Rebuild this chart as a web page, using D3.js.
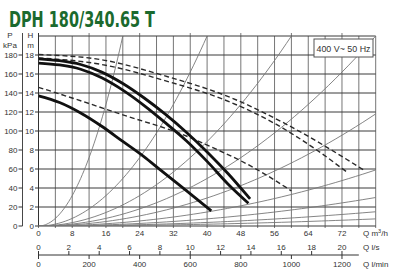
<!DOCTYPE html>
<html><head><meta charset="utf-8">
<script src="https://cdn.jsdelivr.net/npm/d3@7/dist/d3.min.js"></script>
<style>
html,body{margin:0;padding:0;background:#fff;}
svg{display:block;font-family:"Liberation Sans",Arial,sans-serif;}
</style></head>
<body><svg id="c" width="400" height="278"></svg>
<script>
// ---- data ----
const title = "DPH 180/340.65 T";
const legendText = "400 V~ 50 Hz";
const qTicks = [0, 8, 16, 24, 32, 40, 48, 56, 64, 72];
const hTicks = [0, 2, 4, 6, 8, 10, 12, 14, 16, 18];
const kpaTicks = [0, 20, 40, 60, 80, 100, 120, 140, 160, 180];
const lsTicks = [0, 2, 4, 6, 8, 10, 12, 14, 16, 18, 20];
const lminTicks = [0, 200, 400, 600, 800, 1000, 1200];
// pump curves (solid thick)
const s1Q = [0, 5, 10, 15, 20, 25, 30, 35, 40, 45, 50.2];
const s1H = [17.6, 17.4, 17.0, 16.2, 15.0, 13.5, 11.8, 9.9, 7.8, 5.5, 2.85];
const s2Q = [0, 5, 10, 15, 20, 25, 30, 35, 40, 45, 49.8];
const s2H = [17.15, 16.95, 16.5, 15.6, 14.3, 12.7, 10.9, 9.0, 6.8, 4.4, 2.4];
const s3Q = [0, 5, 10, 15, 20, 25, 28.9, 35, 41];
const s3H = [13.7, 13.0, 11.9, 10.5, 8.9, 7.3, 5.9, 3.75, 1.6];
// dashed curves
const d1Q = [0, 15, 30, 45.7, 58, 69.5, 77.1];
const d1H = [18.05, 17.5, 15.8, 13.5, 10.9, 8.0, 5.9];
const d2Q = [0, 15, 30, 45.7, 56, 66, 73.1];
const d2H = [17.7, 17.0, 15.3, 13.0, 10.8, 8.0, 5.7];
const d3Q = [0, 9.2, 20, 33.8, 42.6, 50, 60];
const d3H = [14.6, 13.3, 11.7, 9.7, 8.0, 6.4, 3.7];
// system curves: end points (Q, H) of parabolas through origin
const sysQEnd = [20, 40, 60, 80, 80, 80, 80, 80, 80];
const sysHEnd = [20, 20, 20, 20, 11.8, 5.9, 3.0, 1.5, 0.75];

// ---- drawing ----
const svg = d3.select("#c");
const x = d3.scaleLinear().domain([0, 80]).range([38.5, 375.7]);
const y = d3.scaleLinear().domain([0, 20]).range([226, 36]);
const yk = d3.scaleLinear().domain([0, 200]).range([226, 36]);
const xLs = d3.scaleLinear().domain([0, 80 / 3.6]).range([38.5, 375.7]);
const xLm = d3.scaleLinear().domain([0, 80 / 0.06]).range([38.5, 375.7]);

// title
svg.append("text").attr("x", 9).attr("y", 26.5)
  .attr("font-family", "'Liberation Sans Narrow','DejaVu Sans Condensed',sans-serif")
  .attr("font-weight", "bold").attr("font-size", 20.5).attr("fill", "#1b6a2e")
  .attr("textLength", 146).attr("lengthAdjust", "spacingAndGlyphs")
  .text(title);

const g = svg.append("g");
// grid
g.selectAll(".vg").data(d3.range(0, 81, 4)).join("line")
  .attr("x1", d => x(d)).attr("x2", d => x(d)).attr("y1", y(20)).attr("y2", y(0) + 2)
  .attr("stroke", "#666").attr("stroke-width", 0.9);
g.selectAll(".hg").data(d3.range(0, 21, 2)).join("line")
  .attr("x1", x(0)).attr("x2", x(80)).attr("y1", d => y(d)).attr("y2", d => y(d))
  .attr("stroke", "#3a3a3a").attr("stroke-width", 1);
// left H axis line
g.append("line").attr("x1", x(0)).attr("x2", x(0)).attr("y1", 33).attr("y2", y(0))
  .attr("stroke", "#333").attr("stroke-width", 1);
// top l/min ticks
g.selectAll(".tt").data(lminTicks.slice(1)).join("line")
  .attr("x1", d => xLm(d)).attr("x2", d => xLm(d)).attr("y1", y(20) - 3).attr("y2", y(20))
  .attr("stroke", "#555").attr("stroke-width", 0.8);

// H axis ticks & labels
g.selectAll(".ht").data(hTicks).join("line")
  .attr("x1", x(0) - 3.5).attr("x2", x(0)).attr("y1", d => y(d)).attr("y2", d => y(d))
  .attr("stroke", "#333");
g.selectAll(".hl").data(hTicks).join("text")
  .attr("x", 34).attr("y", d => y(d) + 3).attr("text-anchor", "end")
  .attr("font-size", 8).attr("fill", "#333").text(d => d);
// kPa axis
const kx = 22.5;
g.append("line").attr("x1", kx).attr("x2", kx).attr("y1", 33).attr("y2", yk(0))
  .attr("stroke", "#333").attr("stroke-width", 0.9);
g.selectAll(".kt").data(kpaTicks).join("line")
  .attr("x1", kx - 4).attr("x2", kx).attr("y1", d => yk(d)).attr("y2", d => yk(d))
  .attr("stroke", "#333");
g.selectAll(".kl").data(kpaTicks).join("text")
  .attr("x", 17.5).attr("y", d => yk(d) + 3).attr("text-anchor", "end")
  .attr("font-size", 8).attr("fill", "#333").text(d => d);
// axis titles
const at = [["P", 10, 38], ["kPa", 10, 47.5], ["H", 30.5, 38], ["m", 30.5, 47.5]];
g.selectAll(".at").data(at).join("text")
  .attr("x", d => d[1]).attr("y", d => d[2]).attr("text-anchor", "middle")
  .attr("font-size", 8).attr("fill", "#333").text(d => d[0]);

// Q m3/h labels
g.selectAll(".ql").data(qTicks).join("text")
  .attr("x", d => x(d)).attr("y", 236).attr("text-anchor", "middle")
  .attr("font-size", 8).attr("fill", "#333").text(d => d);
g.append("text").attr("x", 363).attr("y", 236).attr("font-size", 8).attr("fill", "#333")
  .html("Q m<tspan dy='-3' font-size='5.5'>3</tspan><tspan dy='3'>/h</tspan>");

// l/s & l/min axis
const ay = 255;
g.append("line").attr("x1", x(0)).attr("x2", x(76)).attr("y1", ay).attr("y2", ay)
  .attr("stroke", "#333").attr("stroke-width", 1);
g.selectAll(".lst").data(lsTicks).join("line")
  .attr("x1", d => xLs(d)).attr("x2", d => xLs(d)).attr("y1", ay - 4).attr("y2", ay)
  .attr("stroke", "#333");
g.selectAll(".lsl").data(lsTicks).join("text")
  .attr("x", d => xLs(d)).attr("y", 249.5).attr("text-anchor", "middle")
  .attr("font-size", 8).attr("fill", "#333").text(d => d);
g.selectAll(".lmt").data(lminTicks).join("line")
  .attr("x1", d => xLm(d)).attr("x2", d => xLm(d)).attr("y1", ay).attr("y2", ay + 4)
  .attr("stroke", "#333");
g.selectAll(".lml").data(lminTicks).join("text")
  .attr("x", d => xLm(d)).attr("y", 267).attr("text-anchor", "middle")
  .attr("font-size", 8).attr("fill", "#333").text(d => d);
g.append("text").attr("x", 363).attr("y", 249.5).attr("font-size", 8).attr("fill", "#333").text("Q l/s");
g.append("text").attr("x", 363).attr("y", 267).attr("font-size", 8).attr("fill", "#333").text("Q l/min");

// clip
svg.append("clipPath").attr("id", "pc").append("rect")
  .attr("x", x(0)).attr("y", y(20)).attr("width", x(80) - x(0)).attr("height", y(0) - y(20));
const pg = svg.append("g").attr("clip-path", "url(#pc)");

// system curves
const sysLine = d3.line().x(d => x(d[0])).y(d => y(d[1]));
sysQEnd.forEach((qe, i) => {
  const he = sysHEnd[i];
  const pts = d3.range(0, 1.0001, 0.02).map(t => [qe * t, he * t * t]);
  pg.append("path").attr("d", sysLine(pts)).attr("fill", "none")
    .attr("stroke", "#777").attr("stroke-width", 0.9);
});

const curve = d3.line().x(d => x(d[0])).y(d => y(d[1])).curve(d3.curveMonotoneX);
const zip = (a, b) => a.map((v, i) => [v, b[i]]);
[[d1Q, d1H], [d2Q, d2H], [d3Q, d3H]].forEach(([qs, hs]) => {
  pg.append("path").attr("d", curve(zip(qs, hs))).attr("fill", "none")
    .attr("stroke", "#2a2a2a").attr("stroke-width", 1.4).attr("stroke-dasharray", "5,3");
});
[[s1Q, s1H], [s2Q, s2H], [s3Q, s3H]].forEach(([qs, hs]) => {
  pg.append("path").attr("d", curve(zip(qs, hs))).attr("fill", "none")
    .attr("stroke", "#111").attr("stroke-width", 2.8);
});

// legend box
svg.append("rect").attr("x", 314).attr("y", 39).attr("width", 59).attr("height", 18)
  .attr("fill", "#fff").attr("stroke", "#555").attr("stroke-width", 1);
svg.append("text").attr("x", 343.5).attr("y", 51.5).attr("text-anchor", "middle")
  .attr("font-size", 9).attr("fill", "#333")
  .attr("textLength", 54).attr("lengthAdjust", "spacingAndGlyphs").text(legendText);
</script></body></html>
